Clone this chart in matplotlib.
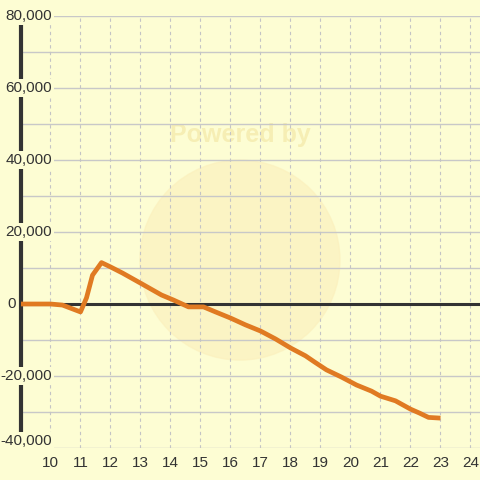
import numpy as np
import matplotlib.pyplot as plt
from matplotlib.patches import Ellipse

plt.rcParams['font.family'] = ['Liberation Sans', 'DejaVu Sans']

# hours vs cumulative value
x = [9.0, 10.0, 10.4, 11.0, 11.2, 11.4, 11.7, 12.0, 12.4, 13.0, 13.7, 14.1,
     14.6, 15.1, 15.5, 16.0, 16.5, 17.0, 17.5, 18.0, 18.5, 18.8, 19.2, 19.7,
     20.2, 20.7, 21.0, 21.5, 22.0, 22.3, 22.6, 23.0]
y = [0, 0, -300, -2200, 1700, 8000, 11500, 10300, 8600, 5800, 2500, 1100,
     -800, -800, -2200, -3900, -5800, -7500, -9700, -12200, -14400, -16100,
     -18300, -20300, -22500, -24200, -25600, -26900, -29200, -30300, -31500, -31700]

xticks = list(range(10, 25))
yticks = [-40000, -20000, 0, 20000, 40000, 60000, 80000]
ylabels = ['-40,000', '-20,000', '0', '20,000', '40,000', '60,000', '80,000']

bg = '#fdfdd3'
fig = plt.figure(figsize=(4.8, 4.8), dpi=100, facecolor=bg)
ax = fig.add_axes([21/480, 32/480, 459/480, 432/480], facecolor=bg)

x0, x1 = 9.017, 24.317
ax.set_xlim(x0, x1)
ax.set_ylim(-40000, 80000)

# faint watermark
ell = Ellipse((0.477, 0.435), 200/459, 200/432, transform=ax.transAxes,
              color='#fbf0bd', zorder=0, alpha=0.65)
ax.add_patch(ell)
ax.text(0.477, 0.725, 'Powered by', transform=ax.transAxes, ha='center', va='center',
        fontsize=18, fontweight='bold', color='#f6eeb4', zorder=0)

# grid
for v in range(-40000, 80001, 10000):
    ax.axhline(v, color='#c8c8c8', lw=1, zorder=1)
for t in xticks:
    ax.axvline(t, color='#c4c4c4', lw=0.8, ls=(0, (3, 3)), zorder=1)

ax.axhline(0, color='#333333', lw=2.2, zorder=2)
ax.plot([x0, x0], [-36000, 78000], color='#333333', lw=3, zorder=2, clip_on=False)

ax.plot(x, y, color='#e07a22', lw=3.4, solid_joinstyle='round', solid_capstyle='butt', zorder=3)

for sp in ax.spines.values():
    sp.set_visible(False)
ax.set_xticks(xticks)
ax.set_xticklabels([str(t) for t in xticks], fontsize=11, color='#333333')
ax.tick_params(axis='x', length=0, pad=6)
ax.set_yticks([])

for v, lab in zip(yticks, ylabels):
    if v == 0:
        ax.text(-5/459, v, lab, transform=ax.get_yaxis_transform(), ha='right', va='center',
                fontsize=11, color='#333333', zorder=4)
        continue
    yy = -38000 if v == -40000 else v
    ax.text(31/459, yy, lab, transform=ax.get_yaxis_transform(), ha='right', va='center',
            fontsize=11, color='#333333', zorder=4,
            bbox=dict(boxstyle='square,pad=0.1', facecolor=bg, edgecolor='none'))

fig.savefig('out.png', dpi=100, facecolor=bg)
